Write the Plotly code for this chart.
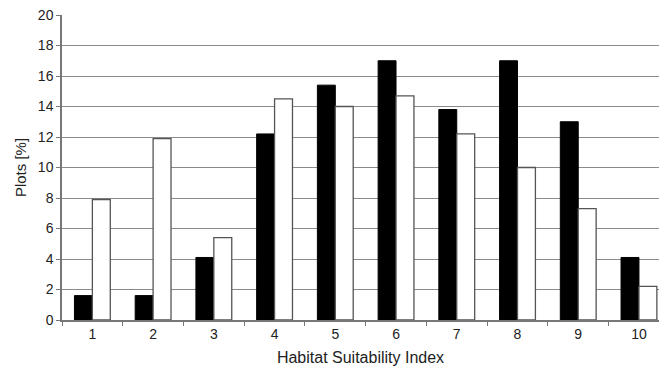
import plotly.graph_objects as go

categories = ["1", "2", "3", "4", "5", "6", "7", "8", "9", "10"]
black_values = [1.6, 1.6, 4.1, 12.2, 15.4, 17.0, 13.8, 17.0, 13.0, 4.1]
white_values = [7.9, 11.9, 5.4, 14.5, 14.0, 14.7, 12.2, 10.0, 7.3, 2.2]
y_ticks = [0, 2, 4, 6, 8, 10, 12, 14, 16, 18, 20]

fig = go.Figure()
fig.add_trace(go.Bar(x=categories, y=black_values, marker=dict(color="black", line=dict(color="black", width=1)), name="A"))
fig.add_trace(go.Bar(x=categories, y=white_values, marker=dict(color="white", line=dict(color="#555555", width=1.3)), name="B"))

fig.update_layout(
    width=659, height=372,
    margin=dict(l=62, r=0, t=15, b=52),
    paper_bgcolor="white", plot_bgcolor="white",
    barmode="group", bargap=0.41, bargroupgap=0,
    showlegend=False,
    font=dict(family="Liberation Sans, Arial", size=14, color="#222222"),
    xaxis=dict(
        type="category", range=[-0.5, 9.33], automargin=False,
        tickson="boundaries", ticks="outside", ticklen=4, tickcolor="#777777",
        showline=True, linecolor="#777777", linewidth=1.5, showgrid=False,
        tickfont=dict(size=14),
        title=dict(text="Habitat Suitability Index", font=dict(size=16), standoff=11),
    ),
    yaxis=dict(
        range=[0, 20], tickvals=y_ticks, ticks="outside", ticklen=4, tickcolor="#777777",
        automargin=False,
        showline=True, linecolor="#777777", linewidth=1.5,
        showgrid=True, gridcolor="#8a8a8a", gridwidth=1.2, zeroline=False,
        tickfont=dict(size=14),
        title=dict(text="Plots [%]", font=dict(size=15), standoff=8),
    ),
)

fig.write_html("out.html", config={"displayModeBar": False},
               post_script="document.body.style.margin='0px';")
